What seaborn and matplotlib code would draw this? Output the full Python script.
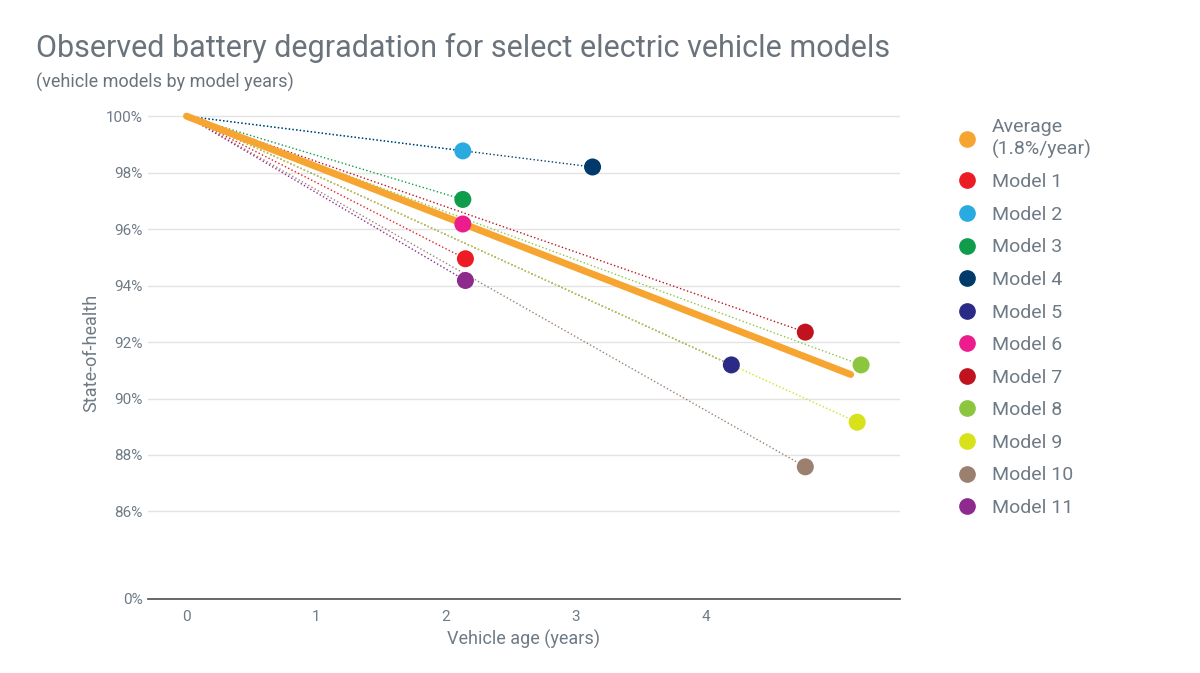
import matplotlib
matplotlib.use("Agg")
import matplotlib.pyplot as plt
import seaborn as sns
import pandas as pd

models = ["Model 1","Model 2","Model 3","Model 4","Model 5","Model 6","Model 7","Model 8","Model 9","Model 10","Model 11"]
ages = [2.15, 2.13, 2.13, 3.13, 4.2, 2.13, 4.77, 5.2, 5.17, 4.77, 2.15]
soh = [94.95, 98.77, 97.05, 98.2, 91.19, 96.18, 92.35, 91.19, 89.16, 87.58, 94.18]
colors = ["#ec1c24","#29abe2","#0f9d4b","#003a6b","#2b2a86","#ec1c8c","#c1121f","#8cc63f","#d7e21b","#9b8070","#8e2a8e"]
avg_age = [0, 5.12]
avg_soh = [100, 90.85]
yticks = [100, 98, 96, 94, 92, 90, 88, 86]
ZERO_POS = 82.9

sns.set_theme(style="white")
plt.rcParams['font.family'] = ['Roboto', 'DejaVu Sans']
fig = plt.figure(figsize=(12, 6.73), dpi=100)
ax = fig.add_axes([0.123, 0.11, 0.627, 0.73])
gray = "#6e7a85"

for m, a, s, c in zip(models, ages, soh, colors):
    d = pd.DataFrame({"x": [0, a], "y": [100, s]})
    sns.lineplot(data=d, x="x", y="y", ax=ax, color=c, lw=1, ls=":", zorder=2)
sns.lineplot(x=avg_age, y=avg_soh, ax=ax, color="#f7a531", lw=5, zorder=3)
handles = [plt.Line2D([], [], marker="o", ls="", color="#f7a531", ms=11)]
labels = ["Average\n(1.8%/year)"]
for m, a, s, c in zip(models, ages, soh, colors):
    ax.scatter([a], [s], s=150, color=c, zorder=4, edgecolor="none")
    handles.append(plt.Line2D([], [], marker="o", ls="", color=c, ms=11))
    labels.append(m)

ax.set_xlim(-0.3, 5.5)
ax.set_ylim(ZERO_POS, 100.3)
ax.set_yticks(yticks + [ZERO_POS])
ax.set_yticklabels([f"{t}%" for t in yticks] + ["0%"], color=gray, fontsize=11)
ax.set_xticks([0, 1, 2, 3, 4])
ax.set_xticklabels(["0", "1", "2", "3", "4"], color=gray, fontsize=11)
for t in yticks:
    ax.axhline(t, color="#e3e3e3", lw=1, zorder=0)
for sp in ["top", "right", "left"]:
    ax.spines[sp].set_visible(False)
ax.spines["bottom"].set_color("#555555")
ax.tick_params(axis="y", length=0)
ax.tick_params(axis="x", length=0, pad=8)
ax.set_xlabel("Vehicle age (years)", color=gray, fontsize=13)
ax.set_ylabel("State-of-health", color=gray, fontsize=13)
fig.text(0.03, 0.915, "Observed battery degradation for select electric vehicle models", fontsize=22, color="#6a737c")
fig.text(0.03, 0.87, "(vehicle models by model years)", fontsize=13, color="#6a737c")
fig.legend(handles, labels, loc="upper left", bbox_to_anchor=(0.775, 0.85), frameon=False,
           fontsize=14, labelcolor=gray, handletextpad=0.3, labelspacing=0.75)
fig.savefig("out.png", dpi=100)
